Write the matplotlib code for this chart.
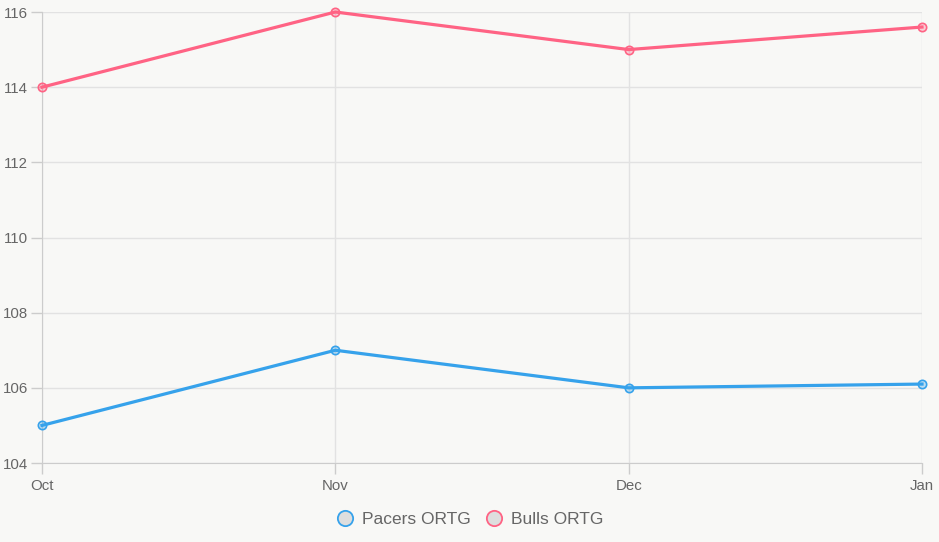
import matplotlib.pyplot as plt
from matplotlib.lines import Line2D

plt.rcParams['font.family'] = ['Liberation Sans', 'DejaVu Sans']

# data
months = ["Oct", "Nov", "Dec", "Jan"]
pacers = [105, 107, 106, 106.1]
bulls = [114, 116, 115, 115.6]

BG = "#f8f8f6"
BLUE = "#36a2eb"
PINK = "#ff6384"

fig = plt.figure(figsize=(9.39, 5.42), dpi=100, facecolor=BG)
ax = fig.add_axes([42 / 939, 79 / 542, 880 / 939, 451 / 542])
ax.set_facecolor(BG)

x = range(len(months))
ax.plot(x, pacers, color=BLUE, lw=2.3, marker="o", ms=6,
        mfc=(0.21, 0.64, 0.92, 0.3), mec=BLUE, mew=1.2, zorder=3, clip_on=False)
ax.plot(x, bulls, color=PINK, lw=2.3, marker="o", ms=6,
        mfc=(1.0, 0.39, 0.52, 0.3), mec=PINK, mew=1.2, zorder=3, clip_on=False)

ax.set_xlim(0, 3)
ax.set_ylim(104, 116)
ax.set_xticks(list(x))
ax.set_xticklabels(months)
ax.set_yticks(range(104, 117, 2))

ax.grid(True, color="#e2e2e2", lw=1)
ax.set_axisbelow(True)
for s in ["top", "right"]:
    ax.spines[s].set_visible(False)
for s in ["left", "bottom"]:
    ax.spines[s].set_color("#cccccc")
ax.tick_params(colors="#cccccc", labelcolor="#666666", labelsize=10.8,
               length=8, width=1)
ax.tick_params(axis="y", pad=2)

handles = [
    Line2D([], [], ls="none", marker="o", ms=11, mfc="#dedede", mec=BLUE, mew=1.3),
    Line2D([], [], ls="none", marker="o", ms=11, mfc="#dedede", mec=PINK, mew=1.3),
]
fig.legend(handles, ["Pacers ORTG", "Bulls ORTG"], loc="center",
           bbox_to_anchor=(469 / 939, 1 - 519 / 542), ncol=2, frameon=False,
           fontsize=12.5, labelcolor="#666666", handletextpad=0.4,
           columnspacing=0.7, handlelength=1.2)

fig.savefig("out.png", dpi=100, facecolor=BG)
